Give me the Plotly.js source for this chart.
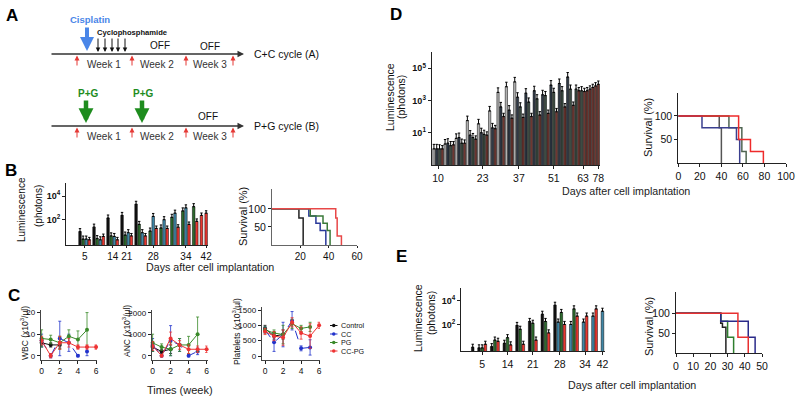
<!DOCTYPE html>
<html><head><meta charset="utf-8">
<script src="https://cdn.plot.ly/plotly-3.0.1.min.js"></script>
<style>html,body{margin:0;padding:0;background:#fff}#chart{width:800px;height:401px}</style>
</head><body><div id="chart"></div>
<script>
const FONT = 'Arial, "Liberation Sans", Helvetica, sans-serif';
const W = 800, H = 401;

// ---------------- Panel B : luminescence (log10 photons), order black, green, blue, red
const bDays     = ['5','9','14','21','24','28','30','32','34','37','40','42'];
const bCtrlLog  = [0.99,1.37,2.14,2.36,3.30,null,null,null,null,null,null,null];
const bPGLog    = [0.36,0.40,0.63,0.70,1.60,1.04,1.30,2.20,2.74,3.10,null,null];
const bCCLog    = [0.36,0.30,0.58,0.90,0.90,2.27,2.00,2.55,3.00,null,null,null];
const bCCPGLog  = [0.30,0.58,0.30,0.63,0.63,1.26,1.26,1.37,1.60,1.86,2.36,2.55];
const bTickDays = ['5','14','21','28','34','42'];

// Panel B : survival (days, %)
const bSurvCtrlT = [0,19,22],          bSurvCtrlS = [100,75,0];
const bSurvCCT   = [0,26,31,34,38],    bSurvCCS   = [100,80,60,40,0];
const bSurvPGT   = [0,27,36,39,41],    bSurvPGS   = [100,80,60,40,0];
const bSurvCCPGT = [0,45,46,49],       bSurvCCPGS = [100,75,25,0];

// ---------------- Panel C : blood counts by week
const weeks = [0,1,2,3,4,5,6];
const wbcCtrl = [6,5,5],              wbcCtrlErr = [1.5,1,1.5];
const wbcCC   = [7,0,8,6,0,2],        wbcCCErr   = [3,1,8,4,0.5,2];
const wbcPG   = [8,7.5,6,9,7.5,12],   wbcPGErr   = [4,2,3,3,4,8];
const wbcCCPG = [7,0,6,6,4,4,4],      wbcCCPGErr = [2,1,3,2,1,1,1];
const ancCtrl = [400,200,300],                 ancCtrlErr = [200,100,200];
const ancCC   = [500,0,700,500,0,200],         ancCCErr   = [300,50,700,300,50,150];
const ancPG   = [600,400,300,500,500,1000],    ancPGErr   = [400,150,300,300,400,800];
const ancCCPG = [450,0,800,500,300,300,300],   ancCCPGErr = [200,50,300,200,200,150,150];
const pltCtrl = [900,650,700],                 pltCtrlErr = [100,100,150];
const pltCC   = [850,450,700,1150,250,280],    pltCCErr   = [100,300,400,300,80,250];
const pltPG   = [850,750,700,1050,900,950],    pltPGErr   = [100,100,300,150,100,150];
const pltCCPG = [800,650,600,1100,750,650,1000], pltCCPGErr = [100,150,250,150,200,400,100];
const groupNames = ['Control','CC','PG','CC-PG'];

// ---------------- Panel D : luminescence (log10), order ctrl, cc, pg, cc-pg
const dDays    = ['10','13','16','20','23','27','30','33','37','40','44','47','51','54','58','61','63','66','69','72','75','78'];
const dCtrlLog = [0,0.30,0.65,1.75,1.55,2.35,3.50,3.85,4.15,null,null,null,null,null,null,null,null,null,null,null,null,null];
const dCCLog   = [0,0.35,0.70,0.85,1.00,1.30,2.60,2.40,3.20,3.45,3.60,3.35,3.95,4.05,4.45,null,null,null,null,null,null,null];
const dPGLog   = [0,0.20,0.35,0.70,0.90,null,null,null,2.60,2.90,3.10,3.30,3.50,3.60,3.70,3.70,3.60,null,null,null,null,null];
const dCCPGLog = [0,0.25,0.35,0.60,0.85,1.25,2.00,1.90,1.95,2.00,2.10,2.20,2.30,2.60,2.70,3.60,3.55,3.60,3.70,3.80,3.90,4.00];
const dTickDays = ['10','23','37','51','63','78'];

// Panel D : survival
const dSurvCtrlT = [0,38,40],        dSurvCtrlS = [100,75,0];
const dSurvCCT   = [0,22,54,57],     dSurvCCS   = [100,75,50,0];
const dSurvPGT   = [0,47,59,63],     dSurvPGS   = [100,75,25,0];
const dSurvCCPGT = [0,56,67,79],     dSurvCCPGS = [100,50,25,0];

// ---------------- Panel E : luminescence (log10), order black, blue, green, red
const eDays    = ['2','5','9','14','17','21','24','28','31','34','38','42'];
const eCtrlLog = [0.10,0.05,0.15,0.43,1.92,2.25,2.85,3.60,null,null,null,null];
const eCCLog   = [null,null,null,null,null,null,null,2.20,2.00,2.20,2.70,3.10];
const ePGLog   = [null,0.05,0.70,0.90,1.60,2.10,2.25,3.00,3.30,null,null,null];
const eCCPGLog = [null,0.35,0.60,0.30,0.35,0.70,1.30,2.00,2.70,2.70,3.30,null];
const eTickDays = ['5','14','21','28','34','42'];

// Panel E : survival
const eSurvCtrlT = [0,26,27,29],     eSurvCtrlS = [100,75,65,0];
const eSurvCCT   = [0,26,42,46],     eSurvCCS   = [100,80,40,0];
const eSurvPGT   = [0,26,30,33.5],   eSurvPGS   = [100,80,40,0];
const eSurvCCPGT = [0,36,42],        eSurvCCPGS = [100,40,0];

// ---------------- helpers
const xd = (a,b)=>[a/W,b/W];
const yd = (top,bot)=>[1-bot/H,1-top/H];
const PX = v=>v/W, PY = v=>1-v/H;

function seqBars(days, series, gap){
  let pos = 0; const xs = series.map(()=>[]), ys = series.map(()=>[]); const centre = {};
  days.forEach((d,i)=>{
    const first = pos;
    series.forEach((s,k)=>{
      const v = s[i];
      if (v !== null && v !== undefined){ xs[k].push(pos); ys[k].push(Math.pow(10,v)); pos += 1; }
    });
    centre[d] = (first + pos - 1)/2;
    pos += gap;
  });
  return {xs, ys, centre, last: pos - gap - 1};
}

const traces = [];
function addBars(res, colors, xa, ya, errPct){
  res.xs.forEach((xarr,k)=>{
    traces.push({type:'bar', x:xarr, y:res.ys[k], xaxis:xa, yaxis:ya, width:0.82,
      marker:{color:colors[k], line:{color:'#000', width:0.5}}, showlegend:false, hoverinfo:'skip',
      error_y:{type:'percent', value:errPct[k], symmetric:false, valueminus:0, color:'#000', thickness:1, width:1.2}});
  });
}
function addSurv(T,S,color,xa,ya){
  traces.push({type:'scatter', mode:'lines', x:T, y:S, xaxis:xa, yaxis:ya, line:{shape:'hv', color:color, width:1.5}, showlegend:false, hoverinfo:'skip'});
}
const cColors = ['#111111','#2233cc','#3a8a2a','#ee3333'];
const cDash = ['solid','dash','solid','solid'];
function addC(series, errs, xa, ya){
  series.forEach((s,k)=>{
    traces.push({type:'scatter', mode:'lines+markers', x:weeks.slice(0,s.length), y:s, xaxis:xa, yaxis:ya,
      line:{color:cColors[k], width:1, dash:cDash[k]}, marker:{color:cColors[k], size:4, symbol:'circle'},
      error_y:{type:'data', array:errs[k], color:cColors[k], thickness:0.8, width:1.5},
      showlegend:false, hoverinfo:'skip', cliponaxis:false});
  });
}

// B
const bRes = seqBars(bDays, [bCtrlLog,bPGLog,bCCLog,bCCPGLog], 0.5);
addBars(bRes, ['#111111','#2d6a2d','#3f86a6','#e8352e'], 'x','y',[80,80,80,60]);
addSurv(bSurvCtrlT,bSurvCtrlS,'#222222','x2','y2');
addSurv(bSurvCCT,bSurvCCS,'#2b3a9a','x2','y2');
addSurv(bSurvPGT,bSurvPGS,'#3a7a3a','x2','y2');
addSurv(bSurvCCPGT,bSurvCCPGS,'#e84848','x2','y2');
// C
addC([wbcCtrl,wbcCC,wbcPG,wbcCCPG],[wbcCtrlErr,wbcCCErr,wbcPGErr,wbcCCPGErr],'x3','y3');
addC([ancCtrl,ancCC,ancPG,ancCCPG],[ancCtrlErr,ancCCErr,ancPGErr,ancCCPGErr],'x4','y4');
addC([pltCtrl,pltCC,pltPG,pltCCPG],[pltCtrlErr,pltCCErr,pltPGErr,pltCCPGErr],'x5','y5');
// D
const dRes = seqBars(dDays, [dCtrlLog,dCCLog,dPGLog,dCCPGLog], 0);
addBars(dRes, ['#b0b0b0','#2f3946','#3c4c42','#6f3731'], 'x6','y6',[90,90,80,60]);
addSurv(dSurvCtrlT,dSurvCtrlS,'#555555','x7','y7');
addSurv(dSurvPGT,dSurvPGS,'#4f6552','x7','y7');
addSurv(dSurvCCT,dSurvCCS,'#3a3f8f','x7','y7');
addSurv(dSurvCCPGT,dSurvCCPGS,'#ee2b2b','x7','y7');
// E
const eRes = seqBars(eDays, [eCtrlLog,eCCLog,ePGLog,eCCPGLog], 1);
addBars(eRes, ['#111111','#3f86a6','#2d6a2d','#e8352e'], 'x8','y8',[80,80,80,80]);
addSurv(eSurvCtrlT,eSurvCtrlS,'#222222','x9','y9');
addSurv(eSurvPGT,eSurvPGS,'#2f7f2f','x9','y9');
addSurv(eSurvCCT,eSurvCCS,'#2a2a8a','x9','y9');
addSurv(eSurvCCPGT,eSurvCCPGS,'#e83030','x9','y9');

// ---------------- axes
const baseAx = {showline:true, linecolor:'#222', linewidth:1, ticks:'outside', ticklen:3, tickwidth:1, tickcolor:'#222',
  showgrid:false, zeroline:false, fixedrange:true, tickangle:0, automargin:false, tickfont:{family:FONT, size:10, color:'#111'}};
function ax(o){ return Object.assign({}, baseAx, o); }
const sup = n=>'10<sup>'+n+'</sup>';
const layout = {
  width:W, height:H, margin:{l:0,r:0,t:0,b:0}, paper_bgcolor:'#fff', plot_bgcolor:'rgba(0,0,0,0)',
  barmode:'overlay', showlegend:false, font:{family:FONT, color:'#111'},
  // B bars
  xaxis: ax({domain:xd(66,208), range:[-4.5,bRes.last+0.6], anchor:'y', tickmode:'array', ticklen:2,
    tickvals:bTickDays.map(d=>bRes.centre[d]), ticktext:bTickDays, tickfont:{family:FONT,size:10}}),
  yaxis: ax({domain:yd(183,245), type:'log', range:[-0.14,5.1], anchor:'x', tickmode:'array',
    tickvals:[100,10000], ticktext:[sup(2),sup(4)], tickfont:{family:FONT,size:9,weight:'bold'}}),
  // B survival
  xaxis2: ax({domain:xd(272,357), range:[0,60], anchor:'y2', tickmode:'array', ticklen:2, tickvals:[20,40,60], linecolor:'#666', tickfont:{family:FONT,size:10}}),
  yaxis2: ax({domain:yd(189,245), range:[0,155], anchor:'x2', tickmode:'array', tickvals:[50,100], linecolor:'#666', tickfont:{family:FONT,size:10.5}}),
  // C
  xaxis3: ax({domain:xd(40.7,97), range:[-0.1,6.1], anchor:'y3', tickmode:'array', tickvals:[0,2,4,6], linecolor:'#444', tickfont:{family:FONT,size:8.5}}),
  yaxis3: ax({domain:yd(310,360), range:[-2,21.2], anchor:'x3', tickmode:'array', tickvals:[0,10,20], linecolor:'#444', tickfont:{family:FONT,size:8}}),
  xaxis4: ax({domain:xd(151.7,207.5), range:[-0.1,6.1], anchor:'y4', tickmode:'array', tickvals:[0,2,4,6], linecolor:'#444', tickfont:{family:FONT,size:8.5}}),
  yaxis4: ax({domain:yd(310,360), range:[-200,2126], anchor:'x4', tickmode:'array', tickvals:[0,1000,2000], linecolor:'#444', tickfont:{family:FONT,size:8}}),
  xaxis5: ax({domain:xd(261.7,320), range:[-0.37,6.1], anchor:'y5', tickmode:'array', tickvals:[0,2,4,6], linecolor:'#444', tickfont:{family:FONT,size:8.5}}),
  yaxis5: ax({domain:yd(306.7,360), range:[-130,1608], anchor:'x5', tickmode:'array', tickvals:[0,500,1000,1500], linecolor:'#444', tickfont:{family:FONT,size:8}}),
  // D bars
  xaxis6: ax({domain:xd(431.7,600), range:[-0.8,dRes.last+0.6], anchor:'y6', tickmode:'array',
    tickvals:dTickDays.map(d=>dRes.centre[d]), ticktext:dTickDays, tickfont:{family:FONT,size:10.5}}),
  yaxis6: ax({domain:yd(51.7,165), type:'log', range:[-1,6.02], anchor:'x6', tickmode:'array',
    tickvals:[10,1000,100000], ticktext:[sup(1),sup(3),sup(5)], tickfont:{family:FONT,size:9,weight:'bold'}}),
  // D survival
  xaxis7: ax({domain:xd(678.3,786), range:[0,100], anchor:'y7', tickmode:'array', tickvals:[0,20,40,60,80,100], tickfont:{family:FONT,size:10.5}}),
  yaxis7: ax({domain:yd(92.7,163.3), range:[0,149], anchor:'x7', tickmode:'array', tickvals:[50,100], tickfont:{family:FONT,size:10.5}}),
  // E bars
  xaxis8: ax({domain:xd(461,605), range:[-3.7,eRes.last+0.8], anchor:'y8', tickmode:'array',
    tickvals:eTickDays.map(d=>eRes.centre[d]), ticktext:eTickDays, tickfont:{family:FONT,size:10.5}}),
  yaxis8: ax({domain:yd(288,351), type:'log', range:[-0.21,5.04], anchor:'x8', tickmode:'array',
    tickvals:[100,10000], ticktext:[sup(2),sup(4)], tickfont:{family:FONT,size:9,weight:'bold'}}),
  // E survival
  xaxis9: ax({domain:xd(676,762), range:[0,50], anchor:'y9', tickmode:'array', tickvals:[0,10,20,30,40,50], tickfont:{family:FONT,size:10.5}}),
  yaxis9: ax({domain:yd(292.3,353.3), range:[0,152.5], anchor:'x9', tickmode:'array', tickvals:[50,100], tickfont:{family:FONT,size:10.5}}),
  annotations:[], shapes:[]
};

// ---------------- text & diagram
const ann = layout.annotations, shp = layout.shapes;
function txt(t,x,y,opt){ ann.push(Object.assign({text:t, x:PX(x), y:PY(y), xref:'paper', yref:'paper', showarrow:false,
  xanchor:'center', yanchor:'middle', font:{family:FONT, size:10, color:'#111'}}, opt||{})); }
function arrow(xh,yh,xt,yt,color,width,size){ ann.push({text:'', x:PX(xh), y:PY(yh), xref:'paper', yref:'paper', showarrow:true,
  ax:xt-xh, ay:yt-yh, axref:'pixel', ayref:'pixel', arrowhead:2, arrowsize:size, arrowwidth:width, arrowcolor:color, standoff:0, startstandoff:0}); }
const vert = (t,x,y,size)=>txt(t,x,y,{textangle:-90, font:{family:FONT,size:size,color:'#111'}});

// panel letters
[['A',11.5,16],['B',11,170],['C',13.5,295],['D',396,14],['E',402,256]].forEach(p=>txt(p[0],p[1],p[2],{font:{family:FONT,size:17,weight:'bold',color:'#000'}}));

// Panel A schematic
const weekX = [104,157,210], redX = [77,132,186,233];
[[54,'C+C cycle (A)'],[126,'P+G cycle (B)']].forEach(([y,lab])=>{
  arrow(244,y,50,y,'#333',1.3,1);
  txt(lab,252,y,{xanchor:'left', font:{family:FONT,size:10.5,color:'#111'}});
  redX.forEach(x=>arrow(x,y+1.5,x,y+13,'#e53935',1,1));
  weekX.forEach((x,i)=>txt('Week '+(i+1),x,y+10.5,{font:{family:FONT,size:10,color:'#333'}}));
});
txt('OFF',160,46); txt('OFF',210,46.5); txt('OFF',208,117);
txt('Cisplatin',90,19,{font:{family:FONT,size:9.5,weight:'bold',color:'#4a86e8'}});
arrow(87,51,87,26,'#4a86e8',4,0.7);
txt('Cyclophosphamide',132,32,{font:{family:FONT,size:7.6,weight:'bold',color:'#111'}});
[98,105,112,118,125].forEach(x=>arrow(x,52,x,37,'#111',1,0.9));
txt('P+G',88,93,{font:{family:FONT,size:10,weight:'bold',color:'#1e8c1e'}});
txt('P+G',143,93,{font:{family:FONT,size:10,weight:'bold',color:'#1e8c1e'}});
arrow(86,123,86,99,'#1e8c1e',4.5,0.66);
arrow(142,123,142,99,'#1e8c1e',4.5,0.66);

// axis titles
vert('Luminescence',21,210,10); vert('(photons)',38,206,10);
vert('Survival (%)',243,217,11);
txt('Days after cell implantation',210,267,{font:{family:FONT,size:10.7,color:'#222'}});
vert('WBC (x10<sup>3</sup>/µl)',24,333,8.5);
vert('ANC (x10<sup>3</sup>/µl)',126,331,8.5);
vert('Platelets (x10<sup>3</sup>/µl)',236,332,8.5);
txt('Times (week)',180,390,{font:{family:FONT,size:11,color:'#222'}});
vert('Luminescence',390,97,10.5); vert('(photons)',401,97,10.5);
vert('Survival (%)',648,128,11);
txt('Days after cell implantation',626,191,{font:{family:FONT,size:10.7,color:'#222'}});
vert('Luminescence',418,318,10.5); vert('(photons)',431,313,10.5);
vert('Survival (%)',649,327,11);
txt('Days after cell implantation',632,385,{font:{family:FONT,size:10.7,color:'#222'}});

// C legend (manual, compact)
const legY = [325.5,334,342.5,351];
groupNames.forEach((n,k)=>{
  shp.push({type:'line', xref:'paper', yref:'paper', x0:PX(330), x1:PX(337.5), y0:PY(legY[k]), y1:PY(legY[k]), line:{color:cColors[k], width:1}});
  shp.push({type:'circle', xref:'paper', yref:'paper', x0:PX(332), x1:PX(335.5), y0:PY(legY[k]+1.75), y1:PY(legY[k]-1.75), fillcolor:cColors[k], line:{color:cColors[k], width:0}});
  txt(n,339,legY[k],{xanchor:'left', font:{family:FONT,size:7.2,color:'#111'}});
});

Plotly.newPlot('chart', traces, layout, {staticPlot:true, displayModeBar:false});
</script>
</body></html>
